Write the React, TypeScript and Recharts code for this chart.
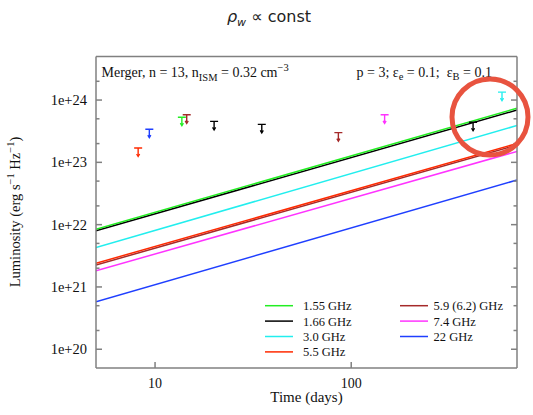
import React from 'react';
import { ComposedChart, Line, Scatter, XAxis, YAxis } from 'recharts';

const W = 533;
const H = 415;

// model light curves (luminosity at first and last time)
const timeDays = [5, 700];
const lum1p55 = [8.4e21, 7.4e23];
const lum1p66 = [8.0e21, 6.9e23];
const lum3p0 = [4.3e21, 3.9e23];
const lum5p5 = [2.4e21, 2.0e23];
const lum5p9 = [2.25e21, 1.9e23];
const lum7p4 = [1.82e21, 1.5e23];
const lum22 = [5.8e20, 5.2e22];

const bandNames = ['1.55 GHz', '1.66 GHz', '3.0 GHz', '5.5 GHz', '5.9 (6.2) GHz', '7.4 GHz', '22 GHz'];
const bandColors = ['#22ee22', '#000000', '#22eeee', '#ff2a00', '#a52a2a', '#ff33ff', '#1f3fff'];
const bandLums = [lum1p55, lum1p66, lum3p0, lum5p5, lum5p9, lum7p4, lum22];

// observed upper limits
const limTime1p55 = [13.7];
const limLum1p55 = [5.3e23];
const limTime1p66 = [20, 35, 418];
const limLum1p66 = [4.55e23, 4.07e23, 4.4e23];
const limTime3p0 = [587];
const limLum3p0 = [1.34e24];
const limTime5p5 = [8.2];
const limLum5p5 = [1.7e23];
const limTime5p9 = [14.5, 86];
const limLum5p9 = [5.8e23, 3.0e23];
const limTime7p4 = [148];
const limLum7p4 = [5.8e23];
const limTime22 = [9.35];
const limLum22 = [3.4e23];

const limTimes = [limTime1p55, limTime1p66, limTime3p0, limTime5p5, limTime5p9, limTime7p4, limTime22];
const limLums = [limLum1p55, limLum1p66, limLum3p0, limLum5p5, limLum5p9, limLum7p4, limLum22];

// axes
const xDomain = [5, 700];
const yDomain = [5e19, 5e24];
const xMajorTicks = [10, 100];
const xMinorTicks = [6, 7, 8, 9, 20, 30, 40, 50, 60, 70, 80, 90, 200, 300, 400, 500, 600, 700];
const yMajorTicks = [1e20, 1e21, 1e22, 1e23, 1e24];
const yMinorTicks = [2e20, 5e20, 2e21, 5e21, 2e22, 5e22, 2e23, 5e23, 2e24];

const axisColor = '#808080';
const serif = '"Liberation Serif", "Times New Roman", serif';
const blank = () => '';
const fmtY = (v: number) => `1e+${Math.round(Math.log10(v))}`;

const makeLimitShape = (color: string) => (props: any) => {
  const { cx, cy } = props;
  if (cx == null || cy == null) return <g />;
  return (
    <g stroke={color} strokeWidth={1.4} fill="none">
      <line x1={cx - 4} x2={cx + 4} y1={cy} y2={cy} />
      <line x1={cx} x2={cx} y1={cy} y2={cy + 8} />
      <path d={`M${cx - 1.5},${cy + 6} L${cx},${cy + 8.5} L${cx + 1.5},${cy + 6}`} />
    </g>
  );
};

const lineData = bandLums.map((lums) => timeDays.map((t, i) => ({ t, L: lums[i] })));
const limitData = limTimes.map((ts, k) => ts.map((t, i) => ({ t, L: limLums[k][i] })));

const drawOrder = [6, 5, 4, 3, 2, 1, 0];

const legendCol1 = [0, 1, 2, 3];
const legendCol2 = [4, 5, 6];

const common = {
  type: 'number' as const,
  scale: 'log' as const,
  allowDataOverflow: true,
  interval: 0 as const,
  stroke: axisColor,
  strokeWidth: 1.5,
};

export default function App() {
  return (
    <div style={{ position: 'absolute', left: 0, top: 0, width: W, height: H }}>
      <div style={{ position: 'absolute', left: 0, top: 0 }}>
        <ComposedChart width={W} height={H} margin={{ top: 55.5, right: 15, bottom: 0, left: 0 }}>
          {/* bottom: major (labelled) + minor (mirrored, inward) */}
          <XAxis
            {...common}
            dataKey="t"
            domain={xDomain}
            ticks={xMajorTicks}
            height={47}
            tickSize={-6}
            tickMargin={16}
            tick={{ fontFamily: serif, fontSize: 14, fill: '#111' }}
          />
          <XAxis
            {...common}
            xAxisId="bmin"
            mirror
            domain={xDomain}
            ticks={xMinorTicks}
            height={1}
            axisLine={false}
            tickSize={3.5}
            tickFormatter={blank}
          />
          {/* top */}
          <XAxis
            {...common}
            xAxisId="tmaj"
            orientation="top"
            domain={xDomain}
            ticks={xMajorTicks}
            height={1}
            tickSize={-6}
            tickFormatter={blank}
          />
          <XAxis
            {...common}
            xAxisId="tmin"
            orientation="top"
            mirror
            domain={xDomain}
            ticks={xMinorTicks}
            height={1}
            axisLine={false}
            tickSize={3.5}
            tickFormatter={blank}
          />
          {/* left */}
          <YAxis
            {...common}
            dataKey="L"
            domain={yDomain}
            ticks={yMajorTicks}
            width={96}
            tickSize={-6}
            tickMargin={15}
            tickFormatter={fmtY}
            tick={{ fontFamily: serif, fontSize: 14.5, fill: '#111' }}
          />
          <YAxis
            {...common}
            yAxisId="lmin"
            mirror
            domain={yDomain}
            ticks={yMinorTicks}
            width={1}
            axisLine={false}
            tickSize={3.5}
            tickFormatter={blank}
          />
          {/* right */}
          <YAxis
            {...common}
            yAxisId="rmaj"
            orientation="right"
            domain={yDomain}
            ticks={yMajorTicks}
            width={1}
            tickSize={-6}
            tickFormatter={blank}
          />
          <YAxis
            {...common}
            yAxisId="rmin"
            orientation="right"
            mirror
            domain={yDomain}
            ticks={yMinorTicks}
            width={1}
            axisLine={false}
            tickSize={3.5}
            tickFormatter={blank}
          />
          {drawOrder.map((k) => (
            <Line
              key={`line-${k}`}
              data={lineData[k]}
              dataKey="L"
              type="linear"
              stroke={bandColors[k]}
              strokeWidth={1.5}
              dot={false}
              activeDot={false}
              isAnimationActive={false}
            />
          ))}
          {drawOrder.map((k) => (
            <Scatter
              key={`lim-${k}`}
              data={limitData[k]}
              dataKey="L"
              fill={bandColors[k]}
              shape={makeLimitShape(bandColors[k])}
              isAnimationActive={false}
            />
          ))}
        </ComposedChart>
      </div>
      <svg width={W} height={H} style={{ position: 'absolute', left: 0, top: 0, pointerEvents: 'none' }}>
        <text x={269} y={21.5} textAnchor="middle" fontFamily='"DejaVu Sans", sans-serif' fontSize={16} fill="#222">
          <tspan fontStyle="italic">ρ</tspan>
          <tspan fontStyle="italic" fontSize={11} dy={4}>w</tspan>
          <tspan dy={-4}> ∝ const</tspan>
        </text>
        <text x={101.5} y={77} fontFamily={serif} fontSize={14} fill="#111" style={{ whiteSpace: 'pre' }}>
          Merger, n = 13, n
          <tspan fontSize={10.5} dy={4}>ISM</tspan>
          <tspan dy={-4}> = 0.32 cm</tspan>
          <tspan fontSize={10.5} dy={-6}>−3</tspan>
        </text>
        <text x={356.5} y={77} fontFamily={serif} fontSize={14} fill="#111" style={{ whiteSpace: 'pre' }}>
          p = 3; ε
          <tspan fontSize={10.5} dy={3}>e</tspan>
          <tspan dy={-3}> = 0.1;  ε</tspan>
          <tspan fontSize={10.5} dy={3}>B</tspan>
          <tspan dy={-3}> = 0.1</tspan>
        </text>
        <text x={306.5} y={402} textAnchor="middle" fontFamily={serif} fontSize={15} fill="#111">
          Time (days)
        </text>
        <text transform="translate(20,212) rotate(-90)" textAnchor="middle" fontFamily={serif} fontSize={14.5} fill="#111">
          Luminosity (erg s
          <tspan fontSize={10.5} dy={-6}>−1</tspan>
          <tspan dy={6}> Hz</tspan>
          <tspan fontSize={10.5} dy={-6}>−1</tspan>
          <tspan dy={6}>)</tspan>
        </text>
        {legendCol1.map((k, r) => (
          <g key={`lg1-${k}`}>
            <line x1={265} x2={293} y1={305.7 + r * 15.4} y2={305.7 + r * 15.4} stroke={bandColors[k]} strokeWidth={1.5} />
            <text x={303} y={305.7 + r * 15.4 + 4.5} fontFamily={serif} fontSize={12.5} fill="#111">
              {bandNames[k]}
            </text>
          </g>
        ))}
        {legendCol2.map((k, r) => (
          <g key={`lg2-${k}`}>
            <line x1={400} x2={428} y1={305.7 + r * 15.4} y2={305.7 + r * 15.4} stroke={bandColors[k]} strokeWidth={1.5} />
            <text x={433.5} y={305.7 + r * 15.4 + 4.5} fontFamily={serif} fontSize={12.5} fill="#111">
              {bandNames[k]}
            </text>
          </g>
        ))}
        <circle cx={490} cy={117} r={38} fill="none" stroke="#e8533f" strokeWidth={5} />
      </svg>
    </div>
  );
}
